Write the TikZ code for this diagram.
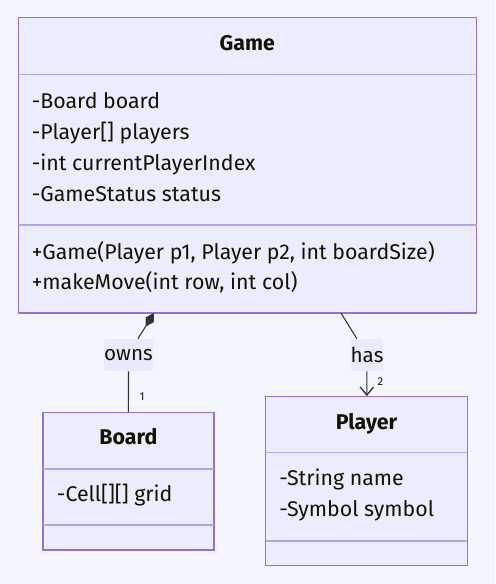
\documentclass[tikz,border=0pt]{standalone}
\usepackage{fontspec}
\setmainfont{Fira Sans}
\usetikzlibrary{arrows.meta}

\definecolor{pagebg}{HTML}{F3F6FE}
\definecolor{classfill}{HTML}{ECECFF}
\definecolor{classline}{HTML}{9370DB}
\definecolor{divline}{HTML}{B7A2EA}
\definecolor{edgeline}{HTML}{333333}
\definecolor{labelfill}{HTML}{E9EAFD}
\definecolor{txt}{HTML}{131300}

\begin{document}
\begin{tikzpicture}[x=0.75pt, y=-0.75pt]

		\tikzstyle{classbox} = [rectangle, draw=classline, fill=classfill, line width=0.9pt, inner sep=0pt]
		\tikzstyle{title}    = [font=\fontsize{16}{18}\selectfont\bfseries, text=txt, anchor=base, inner sep=0pt]
		\tikzstyle{member}   = [font=\fontsize{16}{18}\selectfont, text=txt, anchor=base west, inner sep=0pt]
		\tikzstyle{edgelabel} = [fill=labelfill, font=\fontsize{15.5}{18}\selectfont, text=txt, inner sep=0pt, minimum height=24pt]
		\tikzstyle{mult}     = [font=\fontsize{8.5}{10}\selectfont, text=txt, inner sep=0pt]
		\tikzstyle{sep}      = [draw=divline, line width=0.9pt]
		\tikzstyle{edge}     = [draw=edgeline, line width=0.8pt]

		%%Background and margins
		\fill[pagebg] (0,0) rectangle (495,584);
		\useasboundingbox (0,0) rectangle (495,584);

		%%Classes
		\node [classbox, minimum width=343.5pt, minimum height=221.25pt](game) at (247.3, 165.4) {};
		\node [classbox, minimum width=128.25pt, minimum height=103pt](board) at (128.4, 481.4) {};
		\node [classbox, minimum width=151.2pt, minimum height=126.45pt](player) at (366.5, 481) {};

		%%Compartments
		\draw [sep] (18, 74.5) -- (476.7, 74.5);
		\draw [sep] (18, 225) -- (476.7, 225);
		\draw [sep] (43, 469) -- (213.7, 469);
		\draw [sep] (43, 525) -- (213.7, 525);
		\draw [sep] (265.7, 452.7) -- (467.3, 452.7);
		\draw [sep] (265.7, 541) -- (467.3, 541);

		%%Game
		\node [title](gname) at (247.3, 50.5) {Game};
		\node [member](g1) at (31.5, 108.7) {-Board board};
		\node [member](g2) at (31.5, 139.7) {-Player[] players};
		\node [member](g3) at (31.5, 170.7) {-int currentPlayerIndex};
		\node [member](g4) at (31.5, 201.7) {-GameStatus status};
		\node [member](g5) at (31.5, 259.5) {+Game(Player p1, Player p2, int boardSize)};
		\node [member](g6) at (31.5, 289.5) {+makeMove(int row, int col)};

		%%Board
		\node [title](bname) at (128.4, 444.3) {Board};
		\node [member](b1) at (56.7, 501) {-Cell[][] grid};

		%%Player
		\node [title](pname) at (366.5, 429) {Player};
		\node [member](p1) at (279, 485.7) {-String name};
		\node [member](p2) at (279, 516.7) {-Symbol symbol};

		%%Relations
		\node [edgelabel, minimum width=35.25pt](owns) at (128.5, 355) {owns};
		\node [edgelabel, minimum width=23pt](has) at (367, 355) {has};
		\coordinate (ownstip) at (154, 313);
		\coordinate (hasstart) at (341, 313);
		\node [mult](m1) at (142, 397) {1};
		\node [mult](m2) at (380.5, 382) {2};

		\draw [edge, {Diamond[fill=edgeline, length=12pt, width=7pt]}-] (ownstip)--(owns.60);
		\draw [edge] (owns)--(board);
		\draw [edge] (hasstart)--(has.122);
		\draw [edge, -{Straight Barb[length=6pt, width=10pt, line width=1pt]}] (has)--(player);
	\end{tikzpicture}
\end{document}
